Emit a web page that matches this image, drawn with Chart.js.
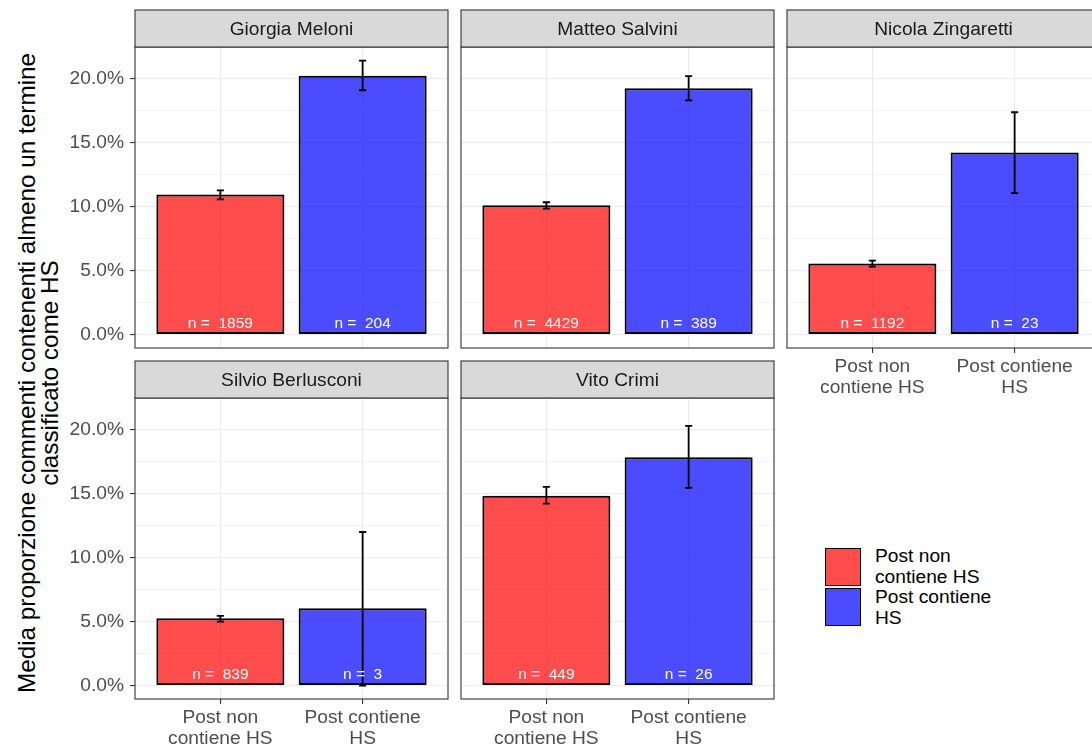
<!DOCTYPE html>
<html>
<head>
<meta charset="utf-8">
<script src="https://cdn.jsdelivr.net/npm/chart.js@4.4.1/dist/chart.umd.min.js"></script>
<style>
  html, body { margin: 0; padding: 0; background: #fff; width: 1092px; height: 752px; overflow: hidden; position: relative;
    font-family: "Liberation Sans", Arial, sans-serif; }
  canvas { position: absolute; left: 0; top: 0; }
  .ytitle { position: absolute; width: 700px; height: 46px; left: -312.4px; top: 349.8px; transform: rotate(-90deg);
    font-size: 24.3px; line-height: 23px; text-align: center; color: #000; white-space: nowrap; }
  .key { position: absolute; box-sizing: border-box; border: 1.6px solid #000; }
  .ktext { position: absolute; font-size: 19.2px; line-height: 20.7px; color: #000; white-space: nowrap; }
</style>
</head>
<body>
<div class="ytitle">Media proporzione commenti contenenti almeno un termine<br>classificato come HS</div>
<div id="legend"></div>
<script>
// ---- data ----
const panelNames = ['Giorgia Meloni', 'Matteo Salvini', 'Nicola Zingaretti', 'Silvio Berlusconi', 'Vito Crimi'];
const groupLabels = [['Post non', 'contiene HS'], ['Post contiene', 'HS']];
const groupColors = ['rgba(255,0,0,0.7)', 'rgba(0,0,255,0.7)'];
const xPositions = [1, 2];

// mean share (%) and confidence interval, posts without HS
const meanNonHS = [10.94, 10.10, 5.55, 5.27, 14.84];
const loNonHS   = [10.57,  9.84, 5.31, 5.00, 14.22];
const hiNonHS   = [11.27, 10.34, 5.78, 5.45, 15.52];
// posts containing HS
const meanHS = [20.23, 19.24, 14.22,  6.04, 17.84];
const loHS   = [19.09, 18.30, 11.06,  0.00, 15.45];
const hiHS   = [21.41, 20.20, 17.37, 12.00, 20.29];
// number of posts per group
const countNonHS = [1859, 4429, 1192, 839, 449];
const countHS    = [204, 389, 23, 3, 26];

const yTickValues = [0, 2.5, 5, 7.5, 10, 12.5, 15, 17.5, 20];
const yTickLabels = ['0.0%', '', '5.0%', '', '10.0%', '', '15.0%', '', '20.0%'];

// ---- layout ----
const FONT = '"Liberation Sans", Arial, sans-serif';
const CW = 1110, CH = 760;
const PANEL_W = 313, PLOT_H = 301, STRIP_H = 37, Y_AXIS_W = 80, X_AXIS_H = 60;
const colLeft = [135, 461, 787];
const rowPlotTop = [47, 398];
const Y_MIN = -1.047, Y_MAX = 22.469, X_MIN = 0.4, X_MAX = 2.6;
const grid = [
  { col: 0, row: 0, yAxis: true,  xAxis: false },
  { col: 1, row: 0, yAxis: false, xAxis: false },
  { col: 2, row: 0, yAxis: false, xAxis: true },
  { col: 0, row: 1, yAxis: true,  xAxis: true },
  { col: 1, row: 1, yAxis: false, xAxis: true }
];

// strip, panel border, error bars and count labels
const facetPlugin = {
  id: 'facet',
  afterDatasetsDraw(chart, args, o) {
    const { ctx, chartArea: a, scales: { x, y } } = chart;
    ctx.save();
    ctx.strokeStyle = '#000';
    ctx.lineWidth = 1.8;
    o.lo.forEach((lo, i) => {
      const xc = x.getPixelForValue(xPositions[i]);
      const half = x.getPixelForValue(xPositions[i] + 0.025) - xc;
      const yl = y.getPixelForValue(lo), yh = y.getPixelForValue(o.hi[i]);
      ctx.beginPath();
      ctx.moveTo(xc, yl); ctx.lineTo(xc, yh);
      ctx.moveTo(xc - half, yl); ctx.lineTo(xc + half, yl);
      ctx.moveTo(xc - half, yh); ctx.lineTo(xc + half, yh);
      ctx.stroke();
    });
    ctx.fillStyle = '#fff';
    ctx.font = '15.5px ' + FONT;
    ctx.textAlign = 'center';
    ctx.textBaseline = 'alphabetic';
    o.n.forEach((n, i) => {
      ctx.fillText('n =  ' + n, x.getPixelForValue(xPositions[i]), y.getPixelForValue(0) - 6.6);
    });
    ctx.strokeStyle = '#333333';
    ctx.lineWidth = 1.1;
    ctx.strokeRect(a.left, a.top, a.width, a.height);
    ctx.fillStyle = '#D9D9D9';
    ctx.fillRect(a.left, a.top - STRIP_H, a.width, STRIP_H);
    ctx.strokeRect(a.left, a.top - STRIP_H, a.width, STRIP_H);
    ctx.fillStyle = '#1A1A1A';
    ctx.font = '19.2px ' + FONT;
    ctx.fillText(o.title, (a.left + a.right) / 2, a.top - STRIP_H / 2 + 6.9);
    ctx.restore();
  }
};

panelNames.forEach((name, p) => {
  const g = grid[p];
  const left = colLeft[g.col], top = rowPlotTop[g.row];
  const canvas = document.createElement('canvas');
  canvas.width = CW; canvas.height = CH;
  document.body.appendChild(canvas);

  new Chart(canvas, {
    type: 'bar',
    data: {
      datasets: [{
        data: xPositions.map((xv, i) => ({ x: xv, y: [meanNonHS[p], meanHS[p]][i] })),
        backgroundColor: groupColors,
        borderColor: '#000',
        borderWidth: 2,
        borderSkipped: false,
        barPercentage: 0.9,
        categoryPercentage: 1.0
      }]
    },
    plugins: [facetPlugin],
    options: {
      responsive: false,
      animation: false,
      devicePixelRatio: 1,
      layout: { padding: {
        left: left - Y_AXIS_W,
        right: CW - (left + PANEL_W),
        top: top,
        bottom: CH - (top + PLOT_H) - X_AXIS_H
      } },
      plugins: {
        legend: { display: false },
        tooltip: { enabled: false },
        facet: {
          title: name,
          lo: [loNonHS[p], loHS[p]],
          hi: [hiNonHS[p], hiHS[p]],
          n: [countNonHS[p], countHS[p]]
        }
      },
      scales: {
        x: {
          type: 'linear',
          min: X_MIN, max: X_MAX,
          offset: false,
          afterBuildTicks: s => { s.ticks = xPositions.map(v => ({ value: v })); },
          afterFit: s => { s.height = X_AXIS_H; },
          border: { display: false },
          grid: {
            offset: false,
            color: '#EBEBEB', lineWidth: 1.1,
            drawTicks: g.xAxis, tickLength: 5, tickColor: '#333333', tickWidth: 1.1
          },
          ticks: {
            display: g.xAxis, autoSkip: false, maxRotation: 0, minRotation: 0, padding: 4,
            color: '#4D4D4D', font: { family: FONT, size: 19.2, lineHeight: 1.05 },
            callback: (v, i) => groupLabels[i]
          }
        },
        y: {
          min: Y_MIN, max: Y_MAX,
          afterBuildTicks: s => { s.ticks = yTickValues.map(v => ({ value: v })); },
          afterFit: s => { s.width = Y_AXIS_W; },
          border: { display: false },
          grid: {
            color: '#EBEBEB',
            lineWidth: c => (yTickLabels[c.index] ? 1.1 : 0.55),
            drawTicks: g.yAxis, tickLength: 5,
            tickColor: c => (yTickLabels[c.index] ? '#333333' : 'rgba(0,0,0,0)'),
            tickWidth: 1.1
          },
          ticks: {
            display: g.yAxis, autoSkip: false, padding: 6,
            color: '#4D4D4D', font: { family: FONT, size: 19.2 },
            callback: (v, i) => yTickLabels[i]
          }
        }
      }
    }
  });
});

// shared legend
const legend = document.getElementById('legend');
const keyTop = [548, 588], keyH = [37.5, 38], textTop = [546.1, 586.8];
groupLabels.forEach((lines, i) => {
  const key = document.createElement('div');
  key.className = 'key';
  Object.assign(key.style, { left: '825px', top: keyTop[i] + 'px', width: '35.7px', height: keyH[i] + 'px', background: groupColors[i] });
  legend.appendChild(key);
  const txt = document.createElement('div');
  txt.className = 'ktext';
  Object.assign(txt.style, { left: '875px', top: textTop[i] + 'px' });
  txt.innerHTML = lines.join('<br>');
  legend.appendChild(txt);
});
</script>
</body>
</html>
